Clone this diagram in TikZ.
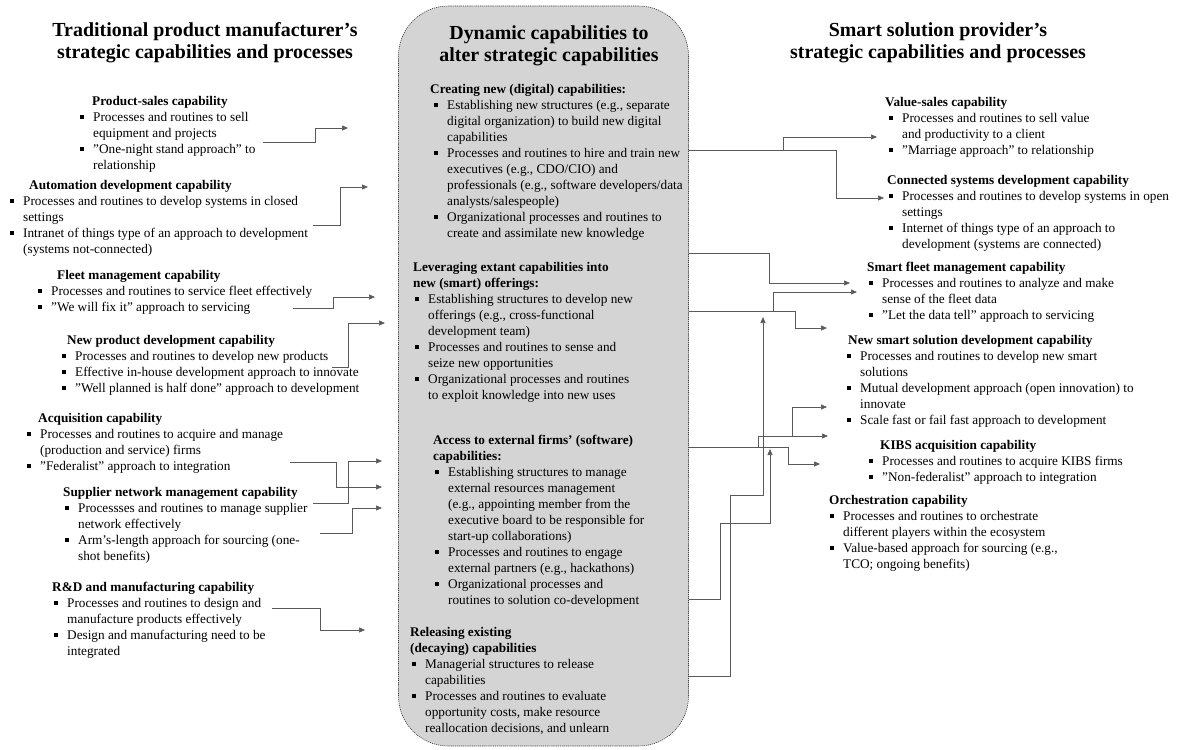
\documentclass[tikz,border=0pt]{standalone}
\usepackage{fontspec}
\setmainfont{Liberation Serif}
\usetikzlibrary{arrows.meta}

% bullet and hanging indent for the item lines
\newcommand{\bul}{\makebox[13bp][l]{\rule[2.2bp]{3.8bp}{3.8bp}}}
\newcommand{\cnt}{\hspace*{13bp}}

\begin{document}
\begin{tikzpicture}[x=1bp, y=-1bp,
    every node/.style={font=\fontsize{13.3}{16}\selectfont},
    capblock/.style={anchor=base west, inner sep=0pt, align=left},
    bigtitle/.style={anchor=base, inner sep=0pt, align=center, font=\fontsize{20}{23}\selectfont\bfseries},
    wire/.style={draw=black!65, line width=0.7bp},
    link/.style={wire, -{Triangle[length=6bp,width=5bp]}}]
  \useasboundingbox (0,0) rectangle (1192,750);

  % Centre box
  \node[draw=black!75, dash pattern=on 1.2bp off 0.9bp, line width=0.6bp, fill=black!17,
        rounded corners=50bp, minimum width=290bp, minimum height=740bp, inner sep=0pt]
        (dyn) at (543.5,376) {};

  % Titles (nodes sit on the baseline of their last line)
  \node[bigtitle] (trad) at (205,59) {Traditional product manufacturer’s\\strategic capabilities and processes};
  \node[bigtitle] (dynt) at (549,62) {Dynamic capabilities to\\alter strategic capabilities};
  \node[bigtitle] (smart) at (938,59) {Smart solution provider’s\\strategic capabilities and processes};

  % Left column
  \node[capblock] (ps) at (80,169) {\hspace*{12bp}\textbf{Product-sales capability}\\
    \bul Processes and routines to sell\\
    \cnt equipment and projects\\
    \bul ”One-night stand approach” to\\
    \cnt relationship};
  \node[capblock] (ad) at (10,253) {\hspace*{19bp}\textbf{Automation development capability}\\
    \bul Processes and routines to develop systems in closed\\
    \cnt settings\\
    \bul Intranet of things type of an approach to development\\
    \cnt (systems not-connected)};
  \node[capblock] (fm) at (38,311) {\hspace*{19bp}\textbf{Fleet management capability}\\
    \bul Processes and routines to service fleet effectively\\
    \bul ”We will fix it” approach to servicing};
  \node[capblock] (np) at (62,392) {\hspace*{5bp}\textbf{New product development capability}\\
    \bul Processes and routines to develop new products\\
    \bul Effective in-house development approach to innovate\\
    \bul ”Well planned is half done” approach to development};
  \node[capblock] (aq) at (27,470) {\hspace*{11bp}\textbf{Acquisition capability}\\
    \bul Processes and routines to acquire and manage\\
    \cnt (production and service) firms\\
    \bul ”Federalist” approach to integration};
  \node[capblock] (sn) at (65,560) {\hspace*{-2bp}\textbf{Supplier network management capability}\\
    \bul Processses and routines to manage supplier\\
    \cnt network effectively\\
    \bul Arm’s-length approach for sourcing (one-\\
    \cnt shot benefits)};
  \node[capblock] (rd) at (54,655) {\hspace*{-2bp}\textbf{R\&D and manufacturing capability}\\
    \bul Processes and routines to design and\\
    \cnt manufacture products effectively\\
    \bul Design and manufacturing need to be\\
    \cnt integrated};

  % Centre column
  \node[capblock] (cn) at (434,237) {\hspace*{-4bp}\textbf{Creating new (digital) capabilities:}\\
    \bul Establishing new structures (e.g., separate\\
    \cnt digital organization) to build new digital\\
    \cnt capabilities\\
    \bul Processes and routines to hire and train new\\
    \cnt executives (e.g., CDO/CIO) and\\
    \cnt professionals (e.g., software developers/data\\
    \cnt analysts/salespeople)\\
    \bul Organizational processes and routines to\\
    \cnt create and assimilate new knowledge};
  \node[capblock] (lv) at (415,399) {\hspace*{-2bp}\textbf{Leveraging extant capabilities into}\\
    \hspace*{-2bp}\textbf{new (smart) offerings:}\\
    \bul Establishing structures to develop new\\
    \cnt offerings (e.g., cross-functional\\
    \cnt development team)\\
    \bul Processes and routines to sense and\\
    \cnt seize new opportunities\\
    \bul Organizational processes and routines\\
    \cnt to exploit knowledge into new uses};
  \node[capblock] (ax) at (435,604) {\hspace*{-2bp}\textbf{Access to external firms’ (software)}\\
    \hspace*{-2bp}\textbf{capabilities:}\\
    \bul Establishing structures to manage\\
    \cnt external resources management\\
    \cnt (e.g., appointing member from the\\
    \cnt executive board to be responsible for\\
    \cnt start-up collaborations)\\
    \bul Processes and routines to engage\\
    \cnt external partners (e.g., hackathons)\\
    \bul Organizational processes and\\
    \cnt routines to solution co-development};
  \node[capblock] (rl) at (412,732) {\hspace*{-2bp}\textbf{Releasing existing}\\
    \hspace*{-2bp}\textbf{(decaying) capabilities}\\
    \bul Managerial structures to release\\
    \cnt capabilities\\
    \bul Processes and routines to evaluate\\
    \cnt opportunity costs, make resource\\
    \cnt reallocation decisions, and unlearn};

  % Right column
  \node[capblock] (vs) at (889,154) {\hspace*{-4bp}\textbf{Value-sales capability}\\
    \bul Processes and routines to sell value\\
    \cnt and productivity to a client\\
    \bul ”Marriage approach” to relationship};
  \node[capblock] (cs) at (889,248) {\hspace*{-2bp}\textbf{Connected systems development capability}\\
    \bul Processes and routines to develop systems in open\\
    \cnt settings\\
    \bul Internet of things type of an approach to\\
    \cnt development (systems are connected)};
  \node[capblock] (sf) at (869,319) {\hspace*{-2bp}\textbf{Smart fleet management capability}\\
    \bul Processes and routines to analyze and make\\
    \cnt sense of the fleet data\\
    \bul ”Let the data tell” approach to servicing};
  \node[capblock] (ns) at (847,424) {\hspace*{1bp}\textbf{New smart solution development capability}\\
    \bul Processes and routines to develop new smart\\
    \cnt solutions\\
    \bul Mutual development approach (open innovation) to\\
    \cnt innovate\\
    \bul Scale fast or fail fast approach to development};
  \node[capblock] (kb) at (869,481) {\hspace*{11bp}\textbf{KIBS acquisition capability}\\
    \bul Processes and routines to acquire KIBS firms\\
    \bul ”Non-federalist” approach to integration};
  \node[capblock] (oc) at (830,568) {\hspace*{-1bp}\textbf{Orchestration capability}\\
    \bul Processes and routines to orchestrate\\
    \cnt different players within the ecosystem\\
    \bul Value-based approach for sourcing (e.g.,\\
    \cnt TCO; ongoing benefits)};

  % Left connectors into the centre box
  \coordinate (ps-o) at (263,142); \coordinate (ps-i) at (348,128);
  \coordinate (ad-o) at (313,225); \coordinate (ad-i) at (368,187);
  \coordinate (fm-o) at (293,308); \coordinate (fm-i) at (375,297);
  \coordinate (np-o) at (332,367); \coordinate (np-i) at (385,323);
  \coordinate (aq-o) at (290,462); \coordinate (aq-i) at (382,487);
  \coordinate (sn-o) at (313,503); \coordinate (sn-i) at (382,461);
  \coordinate (sn-p) at (320,533); \coordinate (sn-j) at (382,508);
  \coordinate (rd-o) at (272,608); \coordinate (rd-i) at (365,630);
  \draw[link] (ps-o) -- ++(52,0) |- (ps-i);
  \draw[link] (ad-o) -- ++(27,0) |- (ad-i);
  \draw[link] (fm-o) -- ++(40,0) |- (fm-i);
  \draw[link] (np-o) -- ++(16,0) |- (np-i);
  \draw[link] (aq-o) -- ++(46,0) |- (aq-i);
  \draw[link] (sn-o) -- ++(35,0) |- (sn-i);
  \draw[link] (sn-p) -- ++(32,0) |- (sn-j);
  \draw[link] (rd-o) -- ++(48,0) |- (rd-i);

  % Right connectors out of the centre box
  \coordinate (j1) at (783,150);
  \coordinate (j2) at (773,311);
  \coordinate (j3) at (758,447);
  \coordinate (j4) at (792,436);
  \coordinate (vs-i) at (877,137);
  \coordinate (cs-i) at (884,198);
  \coordinate (sf-i) at (850,283);
  \coordinate (sf-j) at (857,292);
  \coordinate (ns-i) at (827,328);
  \coordinate (ns-j) at (827,407);
  \coordinate (ns-k) at (828,436);
  \coordinate (kb-i) at (820,464);
  \coordinate (up-a) at (770,449);
  \coordinate (up-b) at (763,317);
  \draw[wire] (dyn.east |- j1) -- (j1);
  \draw[link] (j1) |- (vs-i);
  \draw[link] (j1) -- ++(53,0) |- (cs-i);
  \draw[link] (dyn.east |- 0,253) -- ++(81,0) |- (sf-i);
  \draw[wire] (dyn.east |- j2) -- (j2);
  \draw[link] (j2) |- (sf-j);
  \draw[link] (j2) -- ++(22,0) |- (ns-i);
  \draw[wire] (dyn.east |- j3) -- (j3);
  \draw[link] (j3) -- ++(30,0) |- (kb-i);
  \draw[link] (j3) |- (ns-k);
  \draw[link] (j4) |- (ns-j);
  \draw[link] (dyn.east |- 0,599) -- ++(32,0) -- ++(0,-76) -| (up-a);
  \draw[link] (dyn.east |- 0,676) -- ++(42,0) -- ++(0,-181) -| (up-b);
\end{tikzpicture}
\end{document}
